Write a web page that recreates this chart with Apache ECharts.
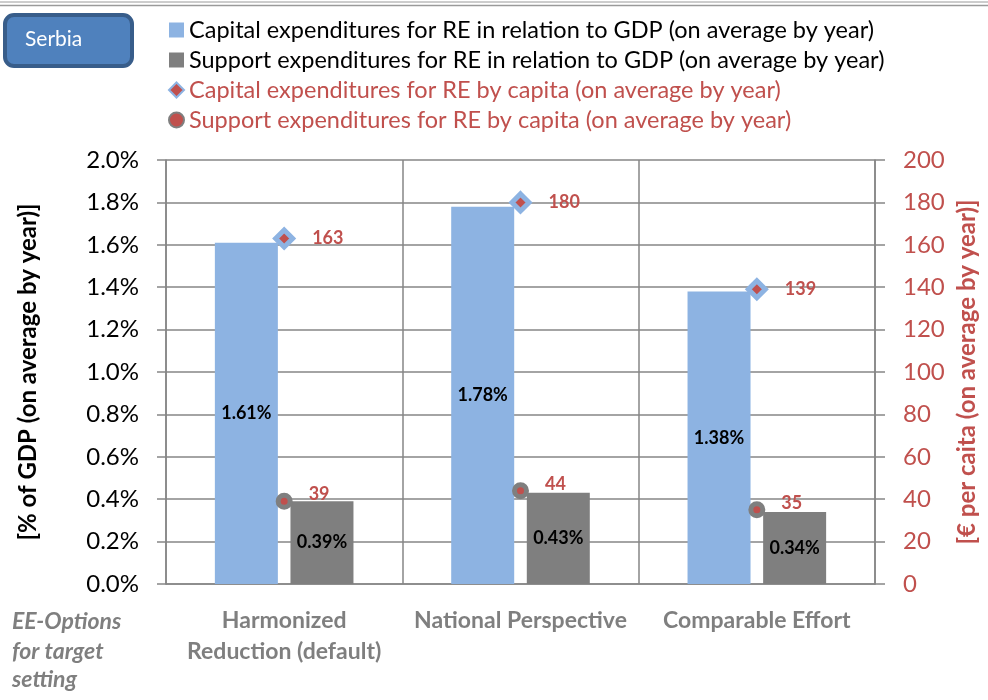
<!DOCTYPE html>
<html>
<head>
<meta charset="utf-8">
<script src="https://cdn.jsdelivr.net/npm/echarts@6/dist/echarts.min.js"></script>
<style>
  html, body { margin: 0; padding: 0; background: #fff; }
  #chart { width: 988px; height: 700px; }
</style>
</head>
<body>
<div id="chart"></div>
<script>
const categories = ["Harmonized\nReduction (default)", "National Perspective", "Comparable Effort"];
const capitalGdp = [1.61, 1.78, 1.38];
const supportGdp = [0.39, 0.43, 0.34];
const capitalPerCapita = [163, 180, 139];
const supportPerCapita = [39, 44, 35];

const seriesNames = [
  "Capital expenditures for RE in relation to GDP (on average by year)",
  "Support expenditures for RE in relation to GDP (on average by year)",
  "Capital expenditures for RE by capita (on average by year)",
  "Support expenditures for RE by capita (on average by year)",
];

const FONT = "Lato";
const RED = "#c0504d";
const BLUE = "#8db3e2";
const GREY = "#7f7f7f";
const LINE = "#868686";

const chart = echarts.init(document.getElementById("chart"), null, { renderer: "canvas" });

chart.setOption({
  animation: false,
  textStyle: { fontFamily: FONT },
  grid: { left: 166, right: 113, top: 160, bottom: 116 },
  legend: {
    orient: "vertical",
    left: 163,
    top: 13,
    itemGap: 6,
    itemWidth: 15,
    itemHeight: 15,
    textStyle: { fontSize: 23.5, fontFamily: FONT, color: "#000" },
    data: [
      { name: seriesNames[0], icon: "rect" },
      { name: seriesNames[1], icon: "rect" },
      { name: seriesNames[2], textStyle: { color: RED } },
      { name: seriesNames[3], textStyle: { color: RED } },
    ],
  },
  xAxis: {
    type: "category",
    data: categories,
    axisLine: { lineStyle: { color: LINE, width: 1.5 } },
    axisTick: { length: 8, lineStyle: { color: LINE, width: 1.5 } },
    splitLine: { show: true, lineStyle: { color: LINE, width: 1.5 } },
    axisLabel: {
      interval: 0,
      margin: 21,
      color: GREY,
      fontWeight: "bold",
      fontSize: 23,
      lineHeight: 31,
      fontFamily: FONT,
    },
  },
  yAxis: [
    {
      type: "value",
      min: 0,
      max: 2,
      interval: 0.2,
      name: "[% of GDP (on average by year)]",
      nameLocation: "middle",
      nameRotate: 90,
      nameGap: 126,
      nameTextStyle: { fontSize: 24, fontWeight: "bold", color: "#000", fontFamily: FONT },
      axisLine: { show: true, lineStyle: { color: LINE, width: 1.5 } },
      axisTick: { show: true, length: 9, lineStyle: { color: LINE, width: 1.5 } },
      splitLine: { lineStyle: { color: LINE, width: 1.5 } },
      axisLabel: {
        margin: 27,
        color: "#000",
        fontSize: 24,
        fontFamily: FONT,
        formatter: (v) => v.toFixed(1) + "%",
      },
    },
    {
      type: "value",
      min: 0,
      max: 200,
      interval: 20,
      position: "right",
      name: "[€ per caita (on average by year)]",
      nameLocation: "middle",
      nameRotate: 90,
      nameGap: 79,
      nameTextStyle: { fontSize: 24, fontWeight: "bold", color: RED, fontFamily: FONT },
      axisLine: { show: true, lineStyle: { color: LINE, width: 1.5 } },
      axisTick: { show: true, length: 10, lineStyle: { color: LINE, width: 1.5 } },
      splitLine: { show: false },
      axisLabel: { margin: 28, color: RED, fontSize: 24, fontFamily: FONT },
    },
  ],
  series: [
    {
      name: seriesNames[0],
      type: "bar",
      yAxisIndex: 0,
      data: capitalGdp,
      barWidth: 63,
      barGap: "20%",
      itemStyle: { color: BLUE },
      label: {
        show: true,
        position: "inside",
        color: "#000",
        fontWeight: "bold",
        fontSize: 18,
        fontFamily: FONT,
        formatter: (p) => p.value.toFixed(2) + "%",
      },
    },
    {
      name: seriesNames[1],
      type: "bar",
      yAxisIndex: 0,
      data: supportGdp,
      barWidth: 63,
      barGap: "20%",
      itemStyle: { color: GREY },
      label: {
        show: true,
        position: "inside",
        color: "#000",
        fontWeight: "bold",
        fontSize: 18,
        fontFamily: FONT,
        formatter: (p) => p.value.toFixed(2) + "%",
      },
    },
    {
      name: seriesNames[2],
      type: "scatter",
      yAxisIndex: 1,
      data: capitalPerCapita,
      symbol: "diamond",
      symbolSize: 17,
      z: 5,
      itemStyle: { color: RED, borderColor: BLUE, borderWidth: 5, opacity: 1 },
      label: {
        show: true,
        position: "right",
        distance: 17,
        color: RED,
        fontWeight: "bold",
        fontSize: 18,
        fontFamily: FONT,
      },
    },
    {
      name: seriesNames[3],
      type: "scatter",
      yAxisIndex: 1,
      data: supportPerCapita,
      symbol: "circle",
      symbolSize: 12,
      z: 5,
      itemStyle: { color: RED, borderColor: GREY, borderWidth: 5, opacity: 1 },
      label: {
        show: true,
        position: "right",
        distance: 16,
        offset: [0, -7],
        color: RED,
        fontWeight: "bold",
        fontSize: 18,
        fontFamily: FONT,
      },
    },
  ],
  graphic: [
    {
      type: "line",
      shape: { x1: 0, y1: 2, x2: 988, y2: 2 },
      style: { stroke: "#9a9a9a", lineWidth: 1 },
    },
    {
      type: "line",
      shape: { x1: 0, y1: 5.5, x2: 988, y2: 5.5 },
      style: { stroke: "#9a9a9a", lineWidth: 1.5 },
    },
    {
      type: "rect",
      shape: { x: 5, y: 15, width: 127, height: 51, r: 9 },
      style: { fill: "#4f81bd", stroke: "#385d8a", lineWidth: 4 },
    },
    {
      type: "text",
      left: 25,
      top: 29,
      style: { text: "Serbia", fill: "#fff", font: "21px " + FONT },
    },
    {
      type: "text",
      left: 12,
      top: 610,
      style: { text: "EE-Options", fill: GREY, font: "italic bold 23px " + FONT },
    },
    {
      type: "text",
      left: 12,
      top: 640,
      style: { text: "for target", fill: GREY, font: "italic bold 23px " + FONT },
    },
    {
      type: "text",
      left: 12,
      top: 668,
      style: { text: "setting", fill: GREY, font: "italic bold 23px " + FONT },
    },
  ],
});
</script>
</body>
</html>
